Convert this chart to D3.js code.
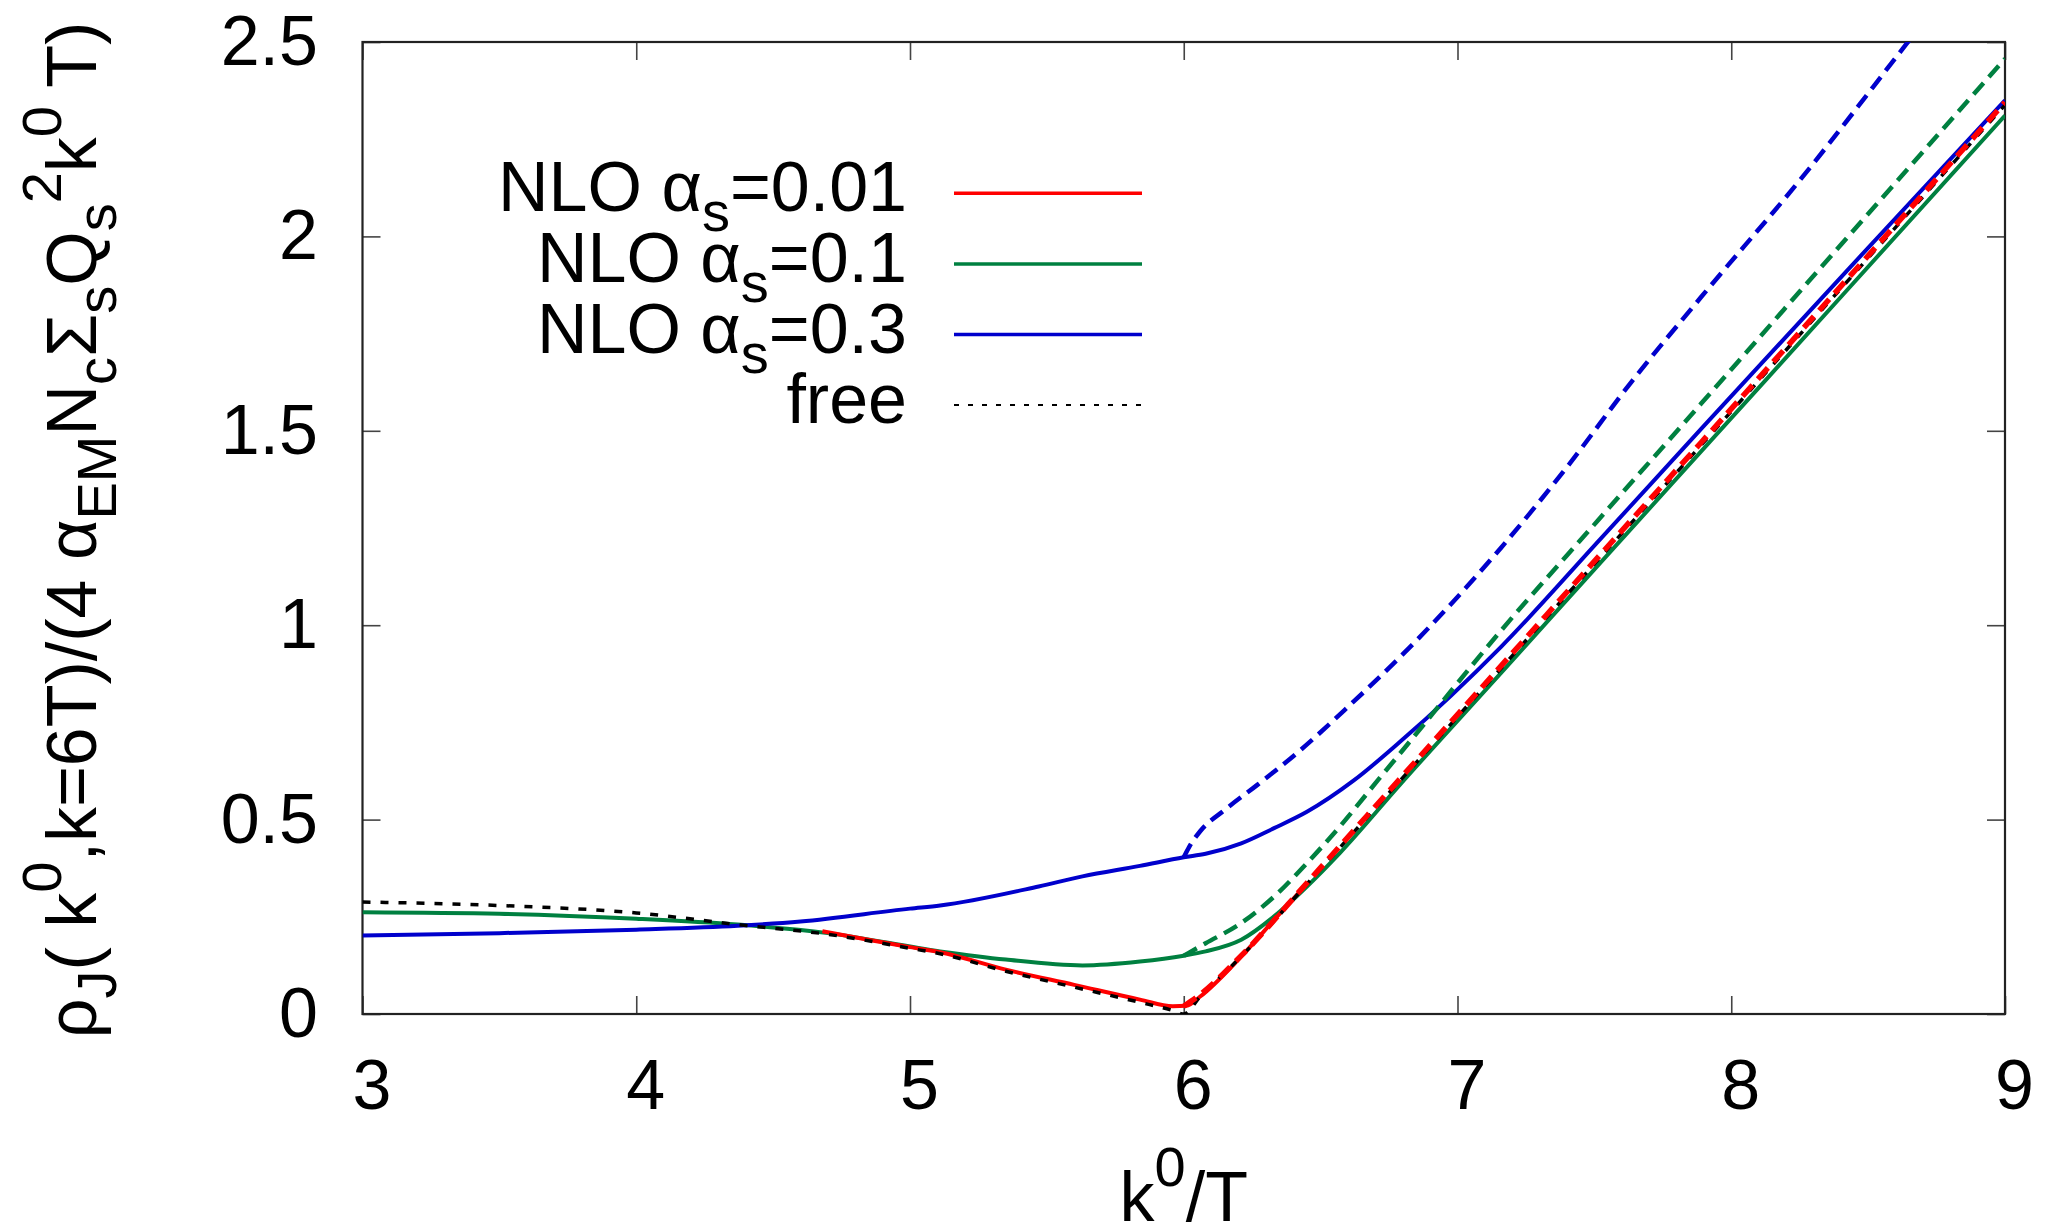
<!DOCTYPE html>
<html>
<head>
<meta charset="utf-8">
<script src="https://cdn.jsdelivr.net/npm/d3@7"></script>
<style>
  body { margin: 0; background: #fff; }
  svg text { font-family: "Liberation Sans", Arial, Helvetica, sans-serif; fill: #000; }
</style>
</head>
<body>
<div id="container"></div>
<script>

let width = 2045;
let height = 1224;
let margin = ({ top: 42, right: 40, bottom: 210, left: 362.5 });

let x_ticks = [3, 4, 5, 6, 7, 8, 9];
let y_ticks = [0, 0.5, 1, 1.5, 2, 2.5];

// free spectral function (black dotted)
let free_k   = [3, 3.5, 4, 4.37, 4.7, 5.0, 5.11, 5.35, 5.6, 5.84, 5.96, 6.0, 6.06, 6.21, 6.46, 6.79, 7.16, 7.52, 7.89, 8.44, 9.0];
let free_rho = [0.288, 0.279, 0.26, 0.23, 0.205, 0.169, 0.155, 0.11, 0.069, 0.03, 0.009, 0.0, 0.045, 0.148, 0.342, 0.6, 0.89, 1.173, 1.463, 1.897, 2.338];

// NLO alpha_s = 0.01
let a001_k   = [4.68, 5.0, 5.11, 5.35, 5.6, 5.84, 5.96, 6.01, 6.06, 6.21, 6.33, 6.45];
let a001_rho = [0.213, 0.172, 0.159, 0.114, 0.075, 0.037, 0.02, 0.021, 0.045, 0.148, 0.242, 0.335];
let a001_dash_k   = [6.0, 6.06, 6.21, 6.46, 6.79, 7.16, 7.52, 7.89, 8.44, 9.0];
let a001_dash_rho = [0.02, 0.05, 0.15, 0.345, 0.605, 0.896, 1.18, 1.47, 1.903, 2.345];

// NLO alpha_s = 0.1
let a01_k   = [3, 3.5, 4, 4.37, 4.7, 5.11, 5.35, 5.63, 5.84, 6.0, 6.08, 6.21, 6.33, 6.45, 6.57, 6.79, 7.16, 7.52, 7.89, 8.44, 9.0];
let a01_rho = [0.262, 0.258, 0.245, 0.23, 0.208, 0.161, 0.14, 0.125, 0.135, 0.15, 0.161, 0.191, 0.251, 0.328, 0.414, 0.59, 0.878, 1.159, 1.447, 1.875, 2.311];
let a01_dash_k   = [6.0, 6.08, 6.21, 6.33, 6.45, 6.57, 6.71, 6.79, 7.16, 7.52, 7.89, 8.44, 9.0];
let a01_dash_rho = [0.15, 0.182, 0.234, 0.302, 0.388, 0.482, 0.602, 0.67, 0.987, 1.275, 1.57, 2.01, 2.457];

// NLO alpha_s = 0.3
let a03_k   = [3, 3.5, 4, 4.37, 4.6, 5.0, 5.11, 5.47, 5.63, 5.84, 6.0, 6.08, 6.21, 6.33, 6.45, 6.62, 6.79, 7.16, 7.52, 7.89, 8.44, 9.0];
let a03_rho = [0.2016, 0.208, 0.217, 0.227, 0.238, 0.271, 0.279, 0.328, 0.354, 0.381, 0.403, 0.412, 0.439, 0.478, 0.52, 0.6, 0.7, 0.945, 1.22, 1.505, 1.925, 2.35];
let a03_dash_k   = [6.0, 6.02, 6.06, 6.15, 6.27, 6.42, 6.6, 6.79, 7.16, 7.4, 7.64, 7.89, 8.25, 8.64, 9.0];
let a03_dash_rho = [0.403, 0.43, 0.47, 0.525, 0.59, 0.675, 0.79, 0.918, 1.2, 1.407, 1.63, 1.844, 2.144, 2.495, 2.82];

let legend_labels = [
  [["NLO α", 0], ["s", -1], ["=0.01", 0]],
  [["NLO α", 0], ["s", -1], ["=0.1", 0]],
  [["NLO α", 0], ["s", -1], ["=0.3", 0]],
  [["free", 0]]
];

let y_label = [["ρ", 0], ["J", -1], ["( k", 0], ["0", 1], [",k=6T)/(4 α", 0], ["EM", -1], ["N", 0], ["c", -1],
  ["Σ", 0], ["s", -1], ["Q", 0], ["s", -1], ["2", 1], ["k", 0], ["0", 1], [" T)", 0]];
let x_label = [["k", 0], ["0", 1], ["/T", 0]];

let red = "#ff0000";
let green = "#008040";
let blue = "#0000cc";

function zip(ks, vals) {
  return ks.map(function (k, i) { return { k: k, v: vals[i] }; });
}

// draw order matters: later curves sit on top
let curves = [
  { data: zip(a01_k, a01_rho), color: green, width: 4, dash: null },
  { data: zip(a03_k, a03_rho), color: blue, width: 4, dash: null },
  { data: zip(a001_k, a001_rho), color: red, width: 4, dash: null },
  { data: zip(free_k, free_rho), color: "#000", width: 3.5, dash: "8,10" },
  { data: zip(a001_dash_k, a001_dash_rho), color: red, width: 5.5, dash: "15,8" },
  { data: zip(a01_dash_k, a01_dash_rho), color: green, width: 4.5, dash: "15,8" },
  { data: zip(a03_dash_k, a03_dash_rho), color: blue, width: 4.5, dash: "15,8" }
];

let legend_styles = [
  { color: red, width: 3.5, dash: null },
  { color: green, width: 3.5, dash: null },
  { color: blue, width: 3.5, dash: null },
  { color: "#000", width: 2, dash: "5,9" }
];

function rich_text(sel, parts, size) {
  let shift = { "-1": 20, "0": 0, "1": -35 };
  let prev = 0;
  parts.forEach(function (p) {
    sel.append("tspan")
      .attr("dy", shift[p[1]] - shift[prev])
      .attr("font-size", p[1] === 0 ? size : size * 0.8)
      .text(p[0]);
    prev = p[1];
  });
}

function render() {
  let x = d3.scaleLinear().domain([3, 9]).range([margin.left, width - margin.right]);
  let y = d3.scaleLinear().domain([0, 2.5]).range([height - margin.bottom, margin.top]);

  let svg = d3.select("#container")
    .append("svg")
    .attr("width", width)
    .attr("height", height)
    .attr("viewBox", [0, 0, width, height]);

  svg.append("defs").append("clipPath")
    .attr("id", "plot-clip")
    .append("rect")
    .attr("x", x(3))
    .attr("y", y(2.5))
    .attr("width", x(9) - x(3))
    .attr("height", y(0) - y(2.5));

  // axes, ticks pointing inward on all four sides
  let tick_len = -18;

  let gx = svg.append("g")
    .attr("transform", "translate(0," + y(0) + ")")
    .call(d3.axisBottom(x).tickValues(x_ticks).tickSizeInner(tick_len).tickSizeOuter(0)
      .tickPadding(45).tickFormat(d3.format("d")));
  gx.selectAll("text").attr("dx", 9);

  svg.append("g")
    .attr("transform", "translate(" + x(3) + ",0)")
    .call(d3.axisLeft(y).tickValues(y_ticks).tickSizeInner(tick_len).tickSizeOuter(0)
      .tickPadding(44.5).tickFormat(function (d) { return d; }));

  svg.append("g")
    .attr("transform", "translate(0," + y(2.5) + ")")
    .call(d3.axisTop(x).tickValues(x_ticks).tickSizeInner(tick_len).tickSizeOuter(0).tickFormat(""));

  svg.append("g")
    .attr("transform", "translate(" + x(9) + ",0)")
    .call(d3.axisRight(y).tickValues(y_ticks).tickSizeInner(tick_len).tickSizeOuter(0).tickFormat(""));

  svg.selectAll(".domain").remove();
  svg.selectAll(".tick line").attr("stroke", "#444").attr("stroke-width", 1.6);
  svg.selectAll(".tick text")
    .attr("font-size", 70)
    .attr("font-family", "Liberation Sans, Arial, sans-serif")
    .attr("fill", "#000");

  svg.append("rect")
    .attr("x", x(3))
    .attr("y", y(2.5))
    .attr("width", x(9) - x(3))
    .attr("height", y(0) - y(2.5))
    .attr("fill", "none")
    .attr("stroke", "#222")
    .attr("stroke-width", 2.2);

  let line = d3.line()
    .x(function (d) { return x(d.k); })
    .y(function (d) { return y(d.v); })
    .curve(d3.curveMonotoneX);

  let g = svg.append("g").attr("clip-path", "url(#plot-clip)");

  g.selectAll(".curve")
    .data(curves)
    .enter()
    .append("path")
    .attr("class", "curve")
    .attr("d", function (d) { return line(d.data); })
    .attr("fill", "none")
    .attr("stroke", function (d) { return d.color; })
    .attr("stroke-width", function (d) { return d.width; })
    .attr("stroke-dasharray", function (d) { return d.dash; })
    .attr("stroke-linejoin", "round");

  // legend
  let row0 = 193.3, row_step = 70.6;
  let leg = svg.append("g").attr("class", "legend");
  legend_labels.forEach(function (parts, i) {
    let ry = row0 + i * row_step;
    let t = leg.append("text")
      .attr("x", 907)
      .attr("y", ry + 18)
      .attr("text-anchor", "end")
      .attr("font-size", 70);
    rich_text(t, parts, 70);
    leg.append("line")
      .attr("x1", 954)
      .attr("x2", 1142)
      .attr("y1", ry)
      .attr("y2", ry)
      .attr("stroke", legend_styles[i].color)
      .attr("stroke-width", legend_styles[i].width)
      .attr("stroke-dasharray", legend_styles[i].dash);
  });

  // axis titles
  let yt = svg.append("text")
    .attr("transform", "translate(96,530) rotate(-90)")
    .attr("text-anchor", "middle")
    .attr("font-size", 70);
  rich_text(yt, y_label, 70);

  let xt = svg.append("text")
    .attr("x", (x(3) + x(9)) / 2)
    .attr("y", 1221)
    .attr("text-anchor", "middle")
    .attr("font-size", 70);
  rich_text(xt, x_label, 70);
}

render();
</script>
</body>
</html>
